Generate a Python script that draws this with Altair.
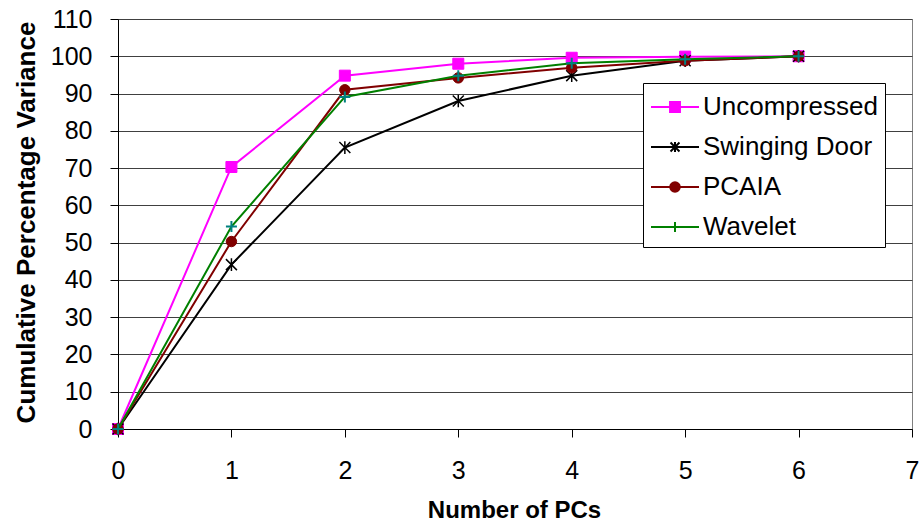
import altair as alt
import pandas as pd

# ---- data ----
pcs = [0, 1, 2, 3, 4, 5, 6]
series_names = ["Uncompressed", "Swinging Door", "PCAIA", "Wavelet"]
uncompressed = [0, 70.3, 94.8, 98.0, 99.6, 99.9, 100]
swinging_door = [0, 44.1, 75.5, 88.0, 94.8, 98.8, 100]
pcaia = [0, 50.3, 91.0, 94.2, 96.9, 98.8, 100]
wavelet = [0, 54.3, 89.1, 94.8, 98.1, 99.2, 100]
x_ticks = [0, 1, 2, 3, 4, 5, 6, 7]
y_ticks = [0, 10, 20, 30, 40, 50, 60, 70, 80, 90, 100, 110]

values_by_series = [uncompressed, swinging_door, pcaia, wavelet]
rows = []
for name, vals in zip(series_names, values_by_series):
    for p, v in zip(pcs, vals):
        rows.append({"pc": p, "value": v, "series": name})
df = pd.DataFrame(rows)

# ---- styles ----
FONT = "Liberation Sans"
line_colors = ["#FF00FF", "#000000", "#800000", "#008000"]
marker_colors = ["#FF00FF", "#000000", "#800000", "#008080"]
marker_paths = [
    "M-1,-1H1V1H-1Z",
    "M-1,-1L1,1M-1,1L1,-1M0,-1.15V1.15",
    "M-0.95,0A0.95,0.95 0 1,0 0.95,0A0.95,0.95 0 1,0 -0.95,0Z",
    "M-1,0H1M0,-1V1",
]
marker_filled = [True, False, True, False]
marker_sw = [1, 1.5, 1, 2]
legend_paths = [
    "M-1.5,0H1.5M-0.31,-0.31H0.31V0.31H-0.31Z",
    "M-1.5,0H1.5M-0.28,-0.28L0.28,0.28M-0.28,0.28L0.28,-0.28M0,-0.32V0.32",
    "M-1.5,0H1.5M-0.3,0A0.3,0.3 0 1,0 0.3,0A0.3,0.3 0 1,0 -0.3,0Z",
    "M-1.5,0H1.5M0,-0.32V0.32",
]

x_enc = alt.X(
    "pc:Q",
    scale=alt.Scale(domain=[0, 7], nice=False, zero=False),
    axis=alt.Axis(
        values=x_ticks, title="Number of PCs", grid=False, format="d",
        labelBaseline="alphabetic", labelPadding=41, labelFlush=False,
        titleX=396, titleY=88, titleBaseline="alphabetic", titleAlign="center",
    ),
)
y_enc = alt.Y(
    "value:Q",
    scale=alt.Scale(domain=[0, 110], nice=False),
    axis=alt.Axis(
        values=y_ticks, title="Cumulative Percentage Variance", grid=True, format="d",
        labelPadding=18, labelFlush=False, titleX=-84, titleY=203,
        titleBaseline="alphabetic", titleAlign="center", titleAngle=270,
        titleFontSize=26,
    ),
)

base = alt.Chart(df)
layers = []
for i, name in enumerate(series_names):
    sub = base.transform_filter(alt.datum.series == name)
    layers.append(
        sub.mark_line(color=line_colors[i], strokeWidth=2).encode(x=x_enc, y=y_enc)
    )
    if marker_filled[i]:
        pm = sub.mark_point(
            shape=marker_paths[i], size=121, filled=True,
            fill=marker_colors[i], stroke=marker_colors[i],
            strokeWidth=marker_sw[i], opacity=1,
        )
    else:
        pm = sub.mark_point(
            shape=marker_paths[i], size=121, filled=False,
            stroke=marker_colors[i], strokeWidth=marker_sw[i], opacity=1,
        )
    layers.append(pm.encode(x=x_enc, y=y_enc))

legend = alt.Legend(
    title=None, orient="none", legendX=525, legendY=64,
    strokeColor="#000000", fillColor="#FFFFFF", padding=7,
    symbolSize=1024, symbolStrokeWidth=2, symbolOpacity=1, symbolOffset=8,
    labelFont=FONT, labelFontSize=26, labelColor="#000000", labelOffset=11,
    rowPadding=10, labelLimit=300,
)
legend_layer = base.mark_point(opacity=0, filled=True).encode(
    x=x_enc,
    y=y_enc,
    shape=alt.Shape("series:N", sort=series_names,
                    scale=alt.Scale(domain=series_names, range=legend_paths), legend=legend),
    fill=alt.Fill("series:N", sort=series_names,
                  scale=alt.Scale(domain=series_names, range=line_colors), legend=legend),
    stroke=alt.Stroke("series:N", sort=series_names,
                      scale=alt.Scale(domain=series_names, range=line_colors), legend=legend),
)
layers.append(legend_layer)

chart = (
    alt.layer(*layers)
    .properties(
        width=794, height=410,
        autosize=alt.AutoSizeParams(type="none"),
        padding={"left": 118, "top": 19, "right": 10, "bottom": 93},
        background="#FFFFFF",
    )
    .configure_view(stroke="#808080", strokeWidth=1)
    .configure_axis(
        labelFont=FONT, labelFontSize=25, labelColor="#000000",
        titleFont=FONT, titleFontSize=24, titleFontWeight="bold", titleColor="#000000",
        domainColor="#000000", domainWidth=1, tickColor="#000000", tickSize=8, tickWidth=1,
        gridColor="#404040", gridWidth=1,
    )
)

chart.save("out.html", embed_options={"renderer": "svg", "actions": False})
